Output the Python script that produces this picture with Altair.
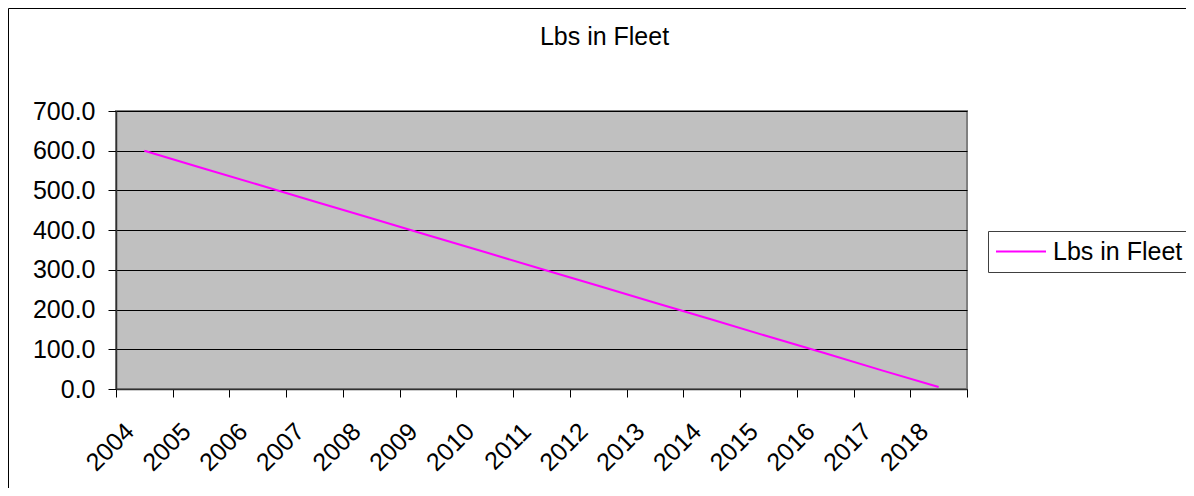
import altair as alt
import pandas as pd

years = ["2004", "2005", "2006", "2007", "2008", "2009", "2010", "2011",
         "2012", "2013", "2014", "2015", "2016", "2017", "2018"]
lbs = [600, 557, 515, 472, 430, 387, 345, 302, 260, 217, 175, 132, 90, 47, 5]
series_name = "Lbs in Fleet"
y_ticks = [0, 100, 200, 300, 400, 500, 600, 700]

df = pd.DataFrame({"year": years, "lbs": lbs, "series": [series_name] * len(years)})

FONT = "Liberation Sans"

frame = alt.Chart(pd.DataFrame({"a": [0]})).mark_rect(
    fillOpacity=0, stroke="black", strokeWidth=1
).encode(
    x=alt.value(-107.5), x2=alt.value(1600),
    y=alt.value(-102.5), y2=alt.value(1000)
)

line = alt.Chart(df).mark_line(strokeWidth=2).encode(
    x=alt.X("year:O",
            scale=alt.Scale(type="band", paddingInner=0, paddingOuter=0),
            bandPosition=0.5,
            sort=years,
            axis=alt.Axis(title=None, tickBand="extent", labelAngle=-45,
                          labelAlign="right", labelBaseline="middle",
                          labelOffset=-15, labelPadding=30, grid=False,
                          tickSize=8)),
    y=alt.Y("lbs:Q",
            scale=alt.Scale(domain=[0, 700], nice=False, zero=True),
            axis=alt.Axis(title=None, values=y_ticks, format=".1f",
                          grid=True, gridColor="black", gridWidth=1,
                          tickSize=8, labelPadding=13)),
    color=alt.Color("series:N",
                    scale=alt.Scale(domain=[series_name], range=["#FF00FF"]),
                    legend=alt.Legend(title=None, orient="none",
                                      legendX=872, legendY=120,
                                      symbolType="M-2,0H2", symbolSize=625,
                                      symbolStrokeWidth=2,
                                      symbolFillColor="transparent",
                                      symbolOffset=12.5, labelOffset=18.5,
                                      padding=7, strokeColor="#404040",
                                      fillColor="white",
                                      labelFontSize=25, labelFont=FONT,
                                      labelColor="black"))
)

chart = alt.layer(frame, line).properties(
    width=851, height=278,
    padding={"left": 108, "top": 103, "right": 219, "bottom": 99},
    autosize=alt.AutoSizeParams(type="none"),
    title=alt.TitleParams(series_name, fontSize=25, font=FONT,
                          fontWeight="normal", color="black",
                          anchor="middle", frame="group", dx=63, dy=62,
                          baseline="alphabetic", offset=0)
).configure_view(
    fill="#C0C0C0", stroke="#808080", strokeWidth=2
).configure_axis(
    labelFont=FONT, labelFontSize=25, labelColor="black",
    domainColor="#303030", domainWidth=1.5, tickColor="black", tickWidth=1
)

chart.save("out.html", embed_options={"renderer": "svg", "actions": False})
